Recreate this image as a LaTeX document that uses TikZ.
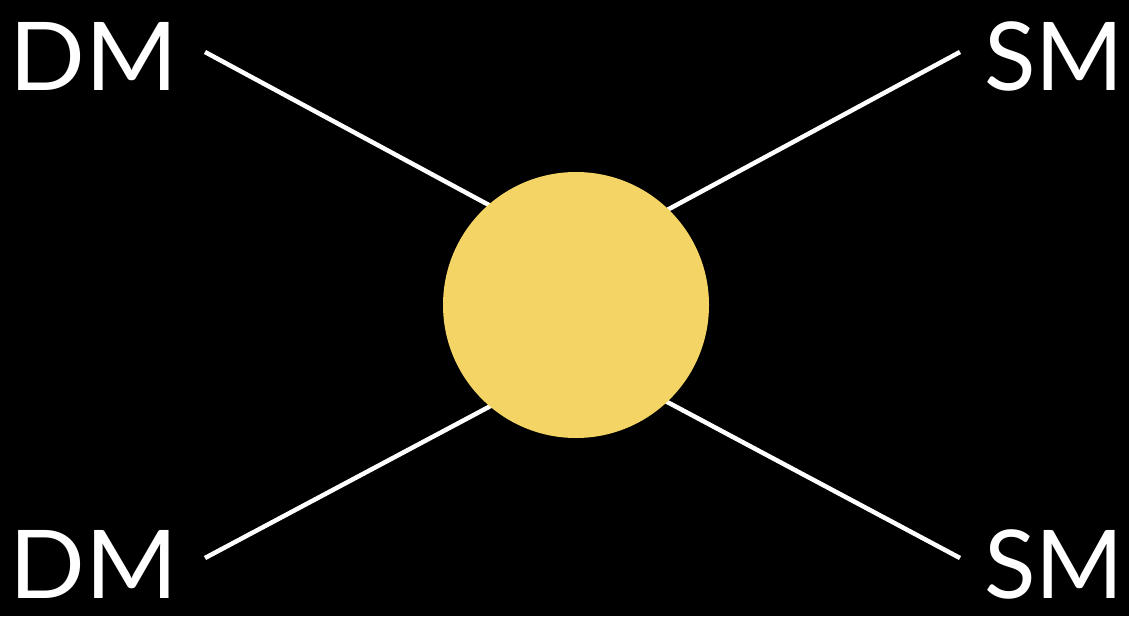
\documentclass[tikz,border=0pt]{standalone}
\usepackage{fontspec}
\setmainfont{Lato}
\newfontfamily\lblfont[FakeStretch=1.05]{Lato}
\definecolor{blob}{HTML}{F3D465}
\begin{document}
\begin{tikzpicture}[x=1pt,y=-1pt,
  lbl/.style={text=white,inner sep=0pt,font=\fontsize{95}{95}\selectfont},
  wide/.style={font=\lblfont\fontsize{95}{95}\selectfont},
  leg/.style={draw=white,line width=4.5pt}]
\fill[black] (0,0) rectangle (1129,616);
\useasboundingbox (0,0) rectangle (1129,616);
\node[lbl,wide,anchor=base west] (dm1) at (9,90) {DM};
\node[lbl,wide,anchor=base west] (dm2) at (9,598) {DM};
\node[lbl,anchor=base east] (sm1) at (1124,90) {SM};
\node[lbl,anchor=base east] (sm2) at (1124,598) {SM};
\coordinate (a1) at (205,52);
\coordinate (a2) at (205,558);
\coordinate (b1) at (960,52);
\coordinate (b2) at (960,558);
\coordinate (c1) at (500,211);
\coordinate (c2) at (500,401);
\coordinate (d1) at (656,216);
\coordinate (d2) at (656,396);
\draw[leg] (a1) -- (c1);
\draw[leg] (a2) -- (c2);
\draw[leg] (b1) -- (d1);
\draw[leg] (b2) -- (d2);
\node[circle,fill=blob,minimum size=266pt,inner sep=0pt] (v) at (576,305) {};
\end{tikzpicture}
\end{document}
